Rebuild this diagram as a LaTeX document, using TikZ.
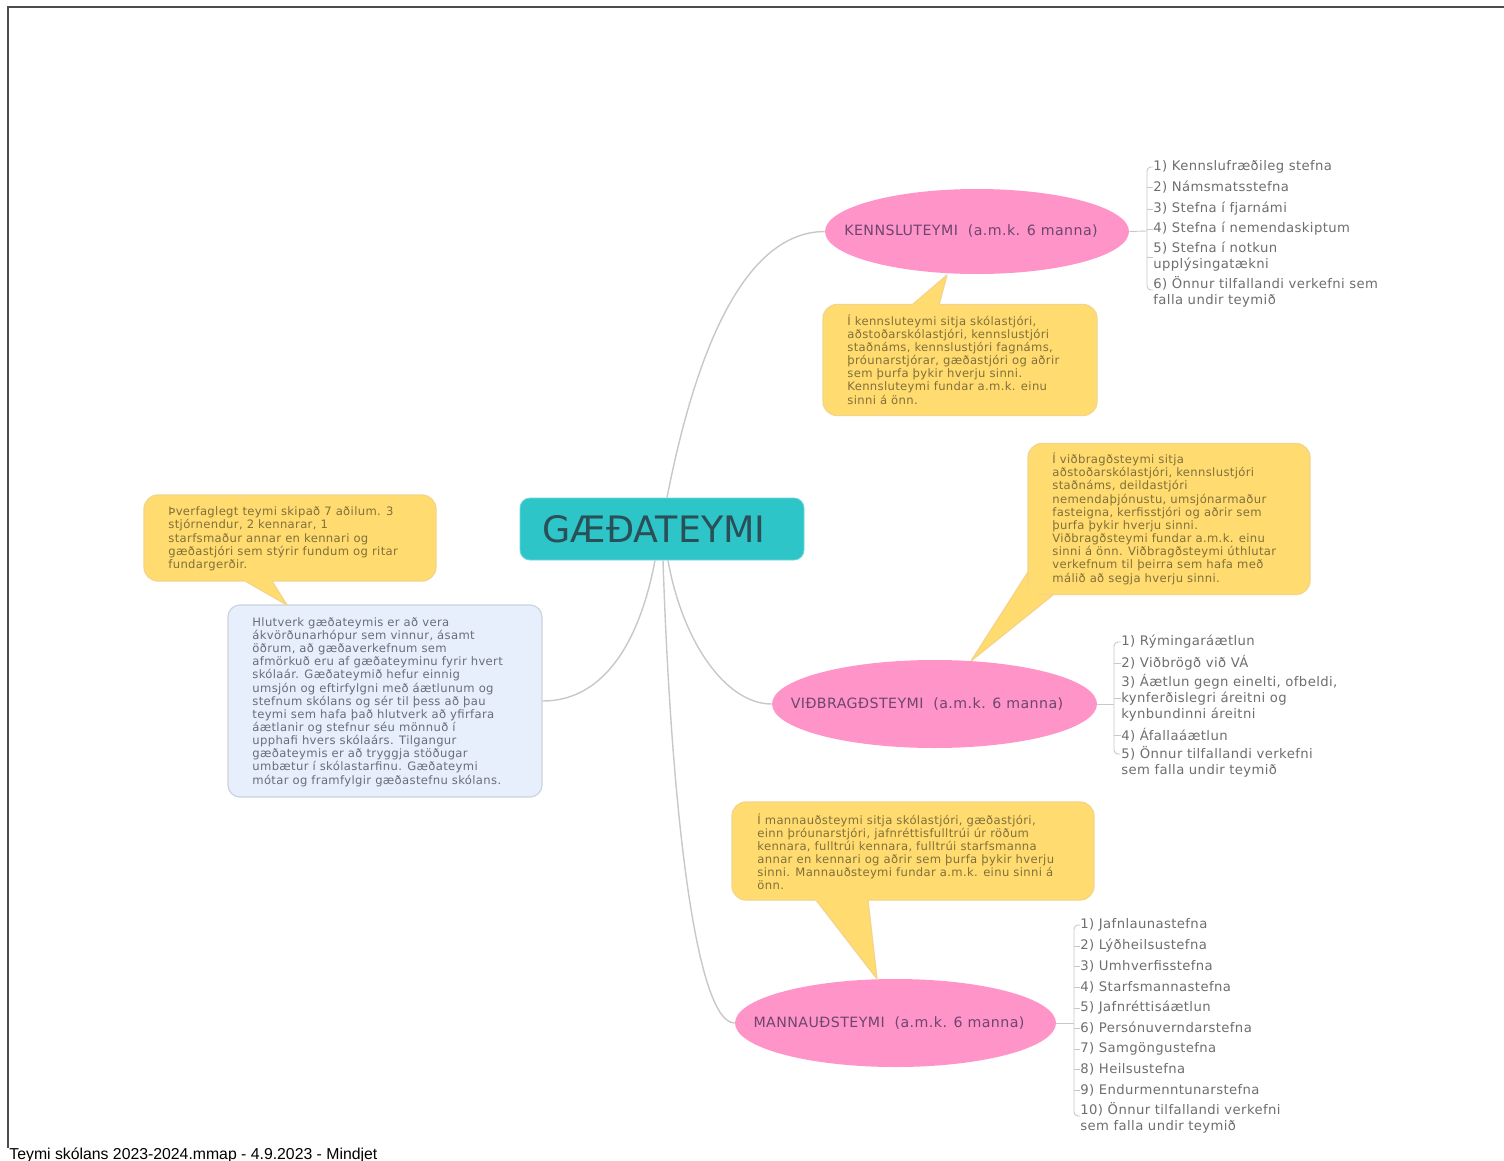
\documentclass[tikz,border=0pt]{standalone}
\usepackage{fontspec}
\setmainfont{DejaVu Sans}
\newfontfamily\spaced[LetterSpace=3]{DejaVu Sans}
\newfontfamily\footfont{Liberation Sans}
\definecolor{callfill}{HTML}{FFDB70}
\definecolor{callline}{HTML}{F3D488}
\definecolor{calltext}{HTML}{80703A}
\definecolor{pinkfill}{HTML}{FF94C8}
\definecolor{pinktext}{HTML}{6E4570}
\definecolor{tealfill}{HTML}{2EC5C9}
\definecolor{tealtext}{HTML}{2B4F57}
\definecolor{bluefill}{HTML}{E6EFFB}
\definecolor{blueline}{HTML}{CCD2DE}
\definecolor{bluetext}{HTML}{6A6C7C}
\definecolor{listtext}{HTML}{6E6E72}
\definecolor{linkgray}{HTML}{C8C8C8}
\usetikzlibrary{shapes.geometric,calc}
\tikzset{
  x=0.5pt,y=-0.5pt,
  box/.style={rounded corners=7pt,inner sep=0pt,draw},
  callbox/.style={box,fill=callfill,draw=callline,line width=0.6pt},
  wedge/.style={fill=callfill,draw=callline,line width=0.6pt,line join=round},
  seam/.style={draw=callfill,line width=1.3pt},
  blurb/.style={anchor=north west,inner sep=0pt,align=left,font=\spaced\fontsize{5.8}{6.58}\selectfont},
  calltxt/.style={blurb,text=calltext},
  teamnode/.style={ellipse,fill=pinkfill,inner sep=0pt},
  teamtext/.style={inner sep=0pt,text=pinktext,font=\spaced\fontsize{7.1}{8}\selectfont},
  item/.style={anchor=west,inner sep=0pt,align=left,text=listtext,font=\spaced\fontsize{6.6}{8}\selectfont},
  link/.style={draw=linkgray,line width=0.7pt},
  tick/.style={draw=linkgray,line width=0.45pt},
}
\begin{document}
\begin{tikzpicture}
\useasboundingbox (0,0) rectangle (1504,1161);
\fill[white] (0,0) rectangle (1504,1161);
\coordinate (frameA) at (8,1148);
\coordinate (frameB) at (8,7);
\coordinate (frameC) at (1504,7);
\draw[draw=black!70,line width=0.6pt] (frameA) -- (frameB) -- (frameC);

% nodes
\node[box,fill=tealfill,draw=tealfill!70!white,minimum width=142pt,minimum height=31pt,rounded corners=5pt] (center) at (662,529) {};
\node[inner sep=0pt,text=tealtext,font=\fontsize{18.2}{20}\selectfont] (centertxt) at (654,529) {GÆÐATEYMI};
\node[teamnode,minimum width=152pt,minimum height=42.5pt] (kenn) at (977,231.5) {};
\node[teamtext] (kenntxt) at (971,231) {KENNSLUTEYMI\ \ (a.m.k. 6 manna)};
\node[teamnode,minimum width=162.5pt,minimum height=44pt] (vid) at (934.5,704) {};
\node[teamtext] (vidtxt) at (927,704) {VIÐBRAGÐSTEYMI\ \ (a.m.k. 6 manna)};
\node[teamnode,minimum width=160.5pt,minimum height=44pt] (mann) at (895.5,1023) {};
\node[teamtext] (manntxt) at (889,1023) {MANNAUÐSTEYMI\ \ (a.m.k. 6 manna)};

% connectors
\draw[link] ([xshift=2.5pt]center.north) .. controls (690,380) and (735,232) .. (kenn.west);
\draw[link] ([xshift=3pt]center.south) .. controls (682,640) and (725,704) .. (vid.west);
\draw[link] ([xshift=0.5pt]center.south) .. controls (672,830) and (698,1023) .. (mann.west);

% blue box
\node[box,fill=bluefill,draw=blueline,line width=0.6pt,minimum width=157pt,minimum height=96pt,rounded corners=6pt] (role) at (385,701) {};
\draw[link] ([xshift=-3.5pt]center.south) .. controls (640,640) and (605,701) .. (role.east);
\node[blurb,text=bluetext] (roletxt) at (252,617) {Hlutverk gæðateymis er að vera\\ákvörðunarhópur sem vinnur, ásamt\\öðrum, að gæðaverkefnum sem\\afmörkuð eru af gæðateyminu fyrir hvert\\skólaár. Gæðateymið hefur einnig\\umsjón og eftirfylgni með áætlunum og\\stefnum skólans og sér til þess að þau\\teymi sem hafa það hlutverk að yfirfara\\áætlanir og stefnur séu mönnuð í\\upphafi hvers skólaárs. Tilgangur\\gæðateymis er að tryggja stöðugar\\umbætur í skólastarfinu. Gæðateymi\\mótar og framfylgir gæðastefnu skólans.};

% callouts
\coordinate (c1a) at (912,305); \coordinate (c1b) at (939,305); \coordinate (c1tip) at (947,275);
\draw[wedge] (c1a) -- (c1tip) -- (c1b);
\node[callbox,minimum width=137pt,minimum height=55.5pt] (c1) at (960,360) {};
\draw[seam] (c1a) -- (c1b);
\node[calltxt] (c1txt) at (847,314) {Í kennsluteymi sitja skólastjóri,\\aðstoðarskólastjóri, kennslustjóri\\staðnáms, kennslustjóri fagnáms,\\þróunarstjórar, gæðastjóri og aðrir\\sem þurfa þykir hverju sinni.\\Kennsluteymi fundar a.m.k. einu\\sinni á önn.};

\coordinate (c2a) at (1028,572); \coordinate (c2b) at (1053,595); \coordinate (c2tip) at (971,661);
\draw[wedge] (c2a) -- (c2tip) -- (c2b);
\node[callbox,minimum width=141pt,minimum height=75.5pt] (c2) at (1169,519) {};
\fill[callfill] (1029,570) -- (1029,594) -- (1053,594) -- cycle;
\node[calltxt] (c2txt) at (1052,452.5) {Í viðbragðsteymi sitja\\aðstoðarskólastjóri, kennslustjóri\\staðnáms, deildastjóri\\nemendaþjónustu, umsjónarmaður\\fasteigna, kerfisstjóri og aðrir sem\\þurfa þykir hverju sinni.\\Viðbragðsteymi fundar a.m.k. einu\\sinni á önn. Viðbragðsteymi úthlutar\\verkefnum til þeirra sem hafa með\\málið að segja hverju sinni.};

\coordinate (c3a) at (816,900); \coordinate (c3b) at (868,900); \coordinate (c3tip) at (877,979);
\draw[wedge] (c3a) -- (c3tip) -- (c3b);
\node[callbox,minimum width=181pt,minimum height=49pt] (c3) at (913,851) {};
\draw[seam] (c3a) -- (c3b);
\node[calltxt] (c3txt) at (757,813) {Í mannauðsteymi sitja skólastjóri, gæðastjóri,\\einn þróunarstjóri, jafnréttisfulltrúi úr röðum\\kennara, fulltrúi kennara, fulltrúi starfsmanna\\annar en kennari og aðrir sem þurfa þykir hverju\\sinni. Mannauðsteymi fundar a.m.k. einu sinni á\\önn.};

\coordinate (c4a) at (245,581); \coordinate (c4b) at (272,581); \coordinate (c4tip) at (287,605);
\draw[wedge] (c4a) -- (c4tip) -- (c4b);
\node[callbox,minimum width=146pt,minimum height=43pt] (c4) at (290,538) {};
\draw[seam] (c4a) -- (c4b);
\node[calltxt] (c4txt) at (168,506.5) {Þverfaglegt teymi skipað 7 aðilum. 3\\stjórnendur, 2 kennarar, 1\\starfsmaður annar en kennari og\\gæðastjóri sem stýrir fundum og ritar\\fundargerðir.};

% list 1
\node[item] (k1) at (1153,167) {1) Kennslufræðileg stefna};
\node[item] (k2) at (1153,187) {2) Námsmatsstefna};
\node[item] (k3) at (1153,209) {3) Stefna í fjarnámi};
\node[item] (k4) at (1153,229) {4) Stefna í nemendaskiptum};
\node[item] (k5) at (1153,257) {5) Stefna í notkun\\upplýsingatækni};
\node[item] (k6) at (1153,291.5) {6) Önnur tilfallandi verkefni sem\\falla undir teymið};
\coordinate (kb) at (1147,231);
\draw[tick] (kenn.east) -- (kb);
\draw[tick,rounded corners=2pt] (k1.west) -| (1147,290) -- (1153,290);
\foreach \n in {k2,k3,k4,k5} \draw[tick] (\n.west) -- (\n.west -| kb);

% list 2
\node[item] (v1) at (1121,642) {1) Rýmingaráætlun};
\node[item] (v2) at (1121,663) {2) Viðbrögð við VÁ};
\node[item] (v3) at (1121,698) {3) Áætlun gegn einelti, ofbeldi,\\kynferðislegri áreitni og\\kynbundinni áreitni};
\node[item] (v4) at (1121,735) {4) Áfallaáætlun};
\node[item] (v5) at (1121,762) {5) Önnur tilfallandi verkefni\\sem falla undir teymið};
\coordinate (vb) at (1114,704);
\draw[tick] (vid.east) -- (vb);
\draw[tick,rounded corners=2pt] (v1.west) -| (1114,754) -- (1120,754);
\foreach \n in {v2,v3,v4} \draw[tick] (\n.west) -- (\n.west -| vb);

% list 3
\node[item] (m1) at (1080,925) {1) Jafnlaunastefna};
\node[item] (m2) at (1080,946) {2) Lýðheilsustefna};
\node[item] (m3) at (1080,966) {3) Umhverfisstefna};
\node[item] (m4) at (1080,987) {4) Starfsmannastefna};
\node[item] (m5) at (1080,1008) {5) Jafnréttisáætlun};
\node[item] (m6) at (1080,1028) {6) Persónuverndarstefna};
\node[item] (m7) at (1080,1049) {7) Samgöngustefna};
\node[item] (m8) at (1080,1069) {8) Heilsustefna};
\node[item] (m9) at (1080,1090) {9) Endurmenntunarstefna};
\node[item] (m10) at (1080,1117.5) {10) Önnur tilfallandi verkefni\\sem falla undir teymið};
\coordinate (mb) at (1074,1023);
\draw[tick] (mann.east) -- (mb);
\draw[tick,rounded corners=2pt] (m1.west) -| (1074,1116) -- (1080,1116);
\foreach \n in {m2,m3,m4,m5,m6,m7,m8,m9} \draw[tick] (\n.west) -- (\n.west -| mb);

% footer
\node[anchor=west,inner sep=0pt,text=black,font=\footfont\fontsize{7.9}{9}\selectfont] (foot) at (9,1155.5) {Teymi skólans 2023-2024.mmap - 4.9.2023 - Mindjet};
\end{tikzpicture}
\end{document}
